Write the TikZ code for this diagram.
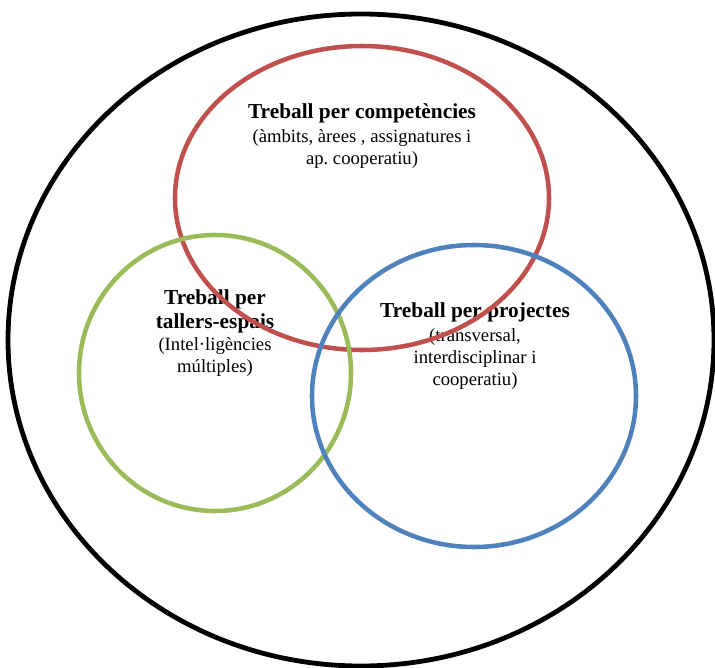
\documentclass[tikz,border=0pt]{standalone}
\usepackage{fontspec}
\setmainfont{Liberation Serif}
\usepackage{xcolor}
\usepackage{tikz}
\definecolor{vnouter}{RGB}{0,0,0}
\definecolor{vncomp}{RGB}{192,80,77}
\definecolor{vntall}{RGB}{155,187,89}
\definecolor{vnproj}{RGB}{79,129,189}
\frenchspacing
\tikzset{
  ring/.style={line width=3.4pt},
  outer/.style={ring, draw=vnouter, line width=3.6pt},
  comp/.style={ring, draw=vncomp},
  tall/.style={ring, draw=vntall},
  proj/.style={ring, draw=vnproj},
  ttl/.style={font=\fontsize{16}{18}\selectfont\bfseries, align=center, inner sep=0pt},
  sub/.style={font=\fontsize{14}{16.2}\selectfont, align=center, inner sep=0pt}
}

\begin{document}
\begin{tikzpicture}[x=0.75pt,y=-0.75pt]
  \useasboundingbox (0,0) rectangle (715,668);
  % labels first, the rings run over them
  \node[ttl] (compT) at (362,113) {Treball per competències};
  \node[sub] (compS) at (362,149) {(àmbits, àrees , assignatures i\\ap. cooperatiu)};
  \node[ttl] (tallT) at (215,311) {Treball per\\tallers-espais};
  \node[sub] (tallS) at (215,357) {(Intel·ligències\\múltiples)};
  \node[ttl] (projT) at (475,312) {Treball per projectes};
  \node[sub] (projS) at (475,359) {(transversal,\\interdisciplinar i\\cooperatiu)};
  % the four rings
  \draw[outer] (361,340) ellipse [x radius=353, y radius=326];
  \draw[comp] (362,198) ellipse [x radius=187, y radius=152];
  \draw[tall] (215,373) ellipse [x radius=136, y radius=138];
  \draw[proj] (474,396) ellipse [x radius=162, y radius=151];
\end{tikzpicture}
\end{document}
